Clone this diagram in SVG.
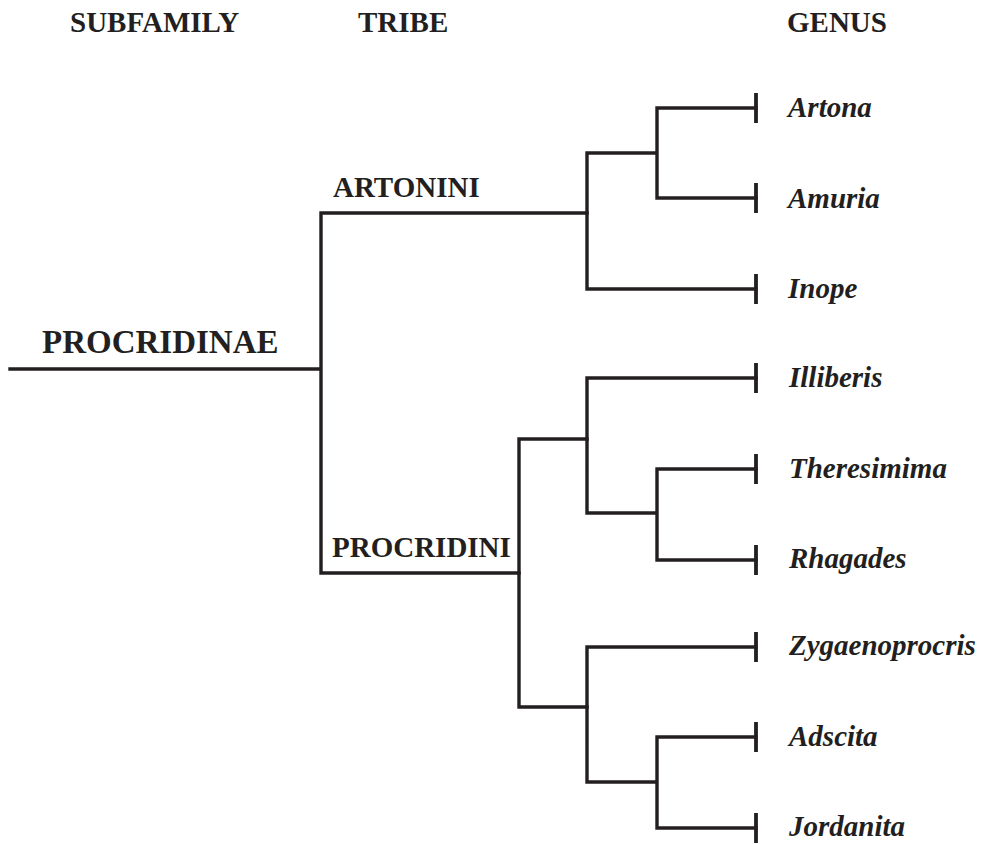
<svg xmlns="http://www.w3.org/2000/svg" width="981" height="845" viewBox="0 0 981 845">
<style>
.ln{fill:none;stroke:#231f20;stroke-width:3.4;stroke-linecap:square}
.tk{stroke:#231f20;stroke-width:3.8}
.hd{font-family:"Liberation Serif","Times New Roman",serif;font-weight:bold;font-size:29px;fill:#231f20}
.big{font-size:33px}
.gn{font-family:"Liberation Serif","Times New Roman",serif;font-weight:bold;font-style:italic;font-size:29px;fill:#231f20}
</style>
<rect width="981" height="845" fill="#fff"/>
<g id="headers">
<text class="hd" x="70" y="32">SUBFAMILY</text>
<text class="hd" x="358" y="32">TRIBE</text>
<text class="hd" x="787" y="32">GENUS</text>
</g>
<g id="connectors">
<path class="ln" d="M10,369 H321 M321,213 V573 M321,213 H587 M321,573 H519"/>
<path class="ln" d="M587,153 V289 M587,153 H657 M657,108 V198 M657,108 H756 M657,198 H756 M587,289 H756"/>
<path class="ln" d="M519,439 V707 M519,439 H587 M519,707 H587"/>
<path class="ln" d="M587,378 V513 M587,378 H756 M587,513 H657 M657,469 V560 M657,469 H756 M657,560 H756"/>
<path class="ln" d="M587,647 V782 M587,647 H756 M587,782 H657 M657,737 V828 M657,737 H756 M657,828 H756"/>
<path class="tk" d="M756,93 V123 M756,183 V213 M756,274 V304 M756,363 V393 M756,454 V484 M756,545 V575 M756,632 V662 M756,722 V752 M756,813 V843"/>
</g>
<g id="procridinae"><text class="hd big" x="42" y="353">PROCRIDINAE</text></g>
<g id="artonini"><text class="hd" x="333" y="197">ARTONINI</text></g>
<g id="procridini"><text class="hd" x="332" y="557">PROCRIDINI</text></g>
<g id="artona"><text class="gn" x="788" y="117">Artona</text></g>
<g id="amuria"><text class="gn" x="788" y="208">Amuria</text></g>
<g id="inope"><text class="gn" x="788" y="298">Inope</text></g>
<g id="illiberis"><text class="gn" x="789" y="387">Illiberis</text></g>
<g id="theresimima"><text class="gn" x="789" y="478">Theresimima</text></g>
<g id="rhagades"><text class="gn" x="789" y="568">Rhagades</text></g>
<g id="zygaenoprocris"><text class="gn" x="789" y="655">Zygaenoprocris</text></g>
<g id="adscita"><text class="gn" x="789" y="746">Adscita</text></g>
<g id="jordanita"><text class="gn" x="789" y="836">Jordanita</text></g>
</svg>
